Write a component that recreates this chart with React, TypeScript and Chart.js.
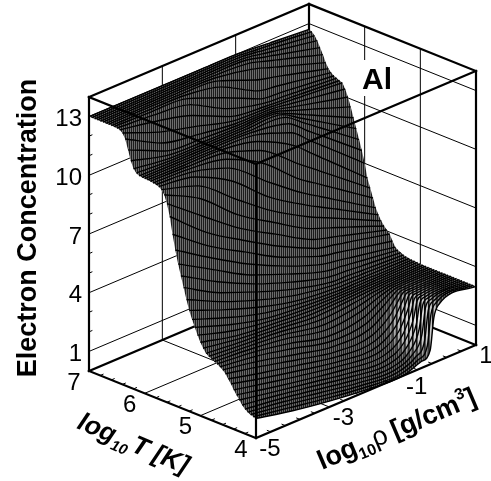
import React, { useEffect, useRef } from "react";
import { Chart, registerables } from "chart.js";

Chart.register(...registerables);

// ---------- data ----------
const temperatures = [
  7, 6.95, 6.9, 6.85, 6.8, 6.75, 6.7, 6.65, 6.6, 6.55, 6.5, 6.45, 6.4, 6.35, 6.3, 6.25, 6.2, 6.15, 6.1, 6.05,
  6, 5.95, 5.9, 5.85, 5.8, 5.75, 5.7, 5.65, 5.6, 5.55, 5.5, 5.45, 5.4, 5.35, 5.3, 5.25, 5.2, 5.15, 5.1, 5.05,
  5, 4.95, 4.9, 4.85, 4.8, 4.75, 4.7, 4.65, 4.6, 4.55, 4.5, 4.45, 4.4, 4.35, 4.3, 4.25, 4.2, 4.15, 4.1, 4.05, 4,
];
const densities = [-5, -4, -3, -2, -1, -0.5, -0.25, -0.15, 0, 1];

const zRhoM5 = [13,13,13,13,13,13,13,13,13,13,12.98,12.95,12.85,12.6,12.1,11.6,11.25,11.08,11,10.98,10.97,10.96,10.95,10.92,10.9,10.85,10.75,10.55,10.15,9.55,8.7,7.95,7.3,6.75,6.2,5.65,5.15,4.75,4.4,4.05,3.75,3.5,3.3,3.2,3.12,3.05,2.98,2.9,2.8,2.65,2.45,2.25,2,1.8,1.6,1.4,1.25,1.15,1.08,1.03,1];
const zRhoM4 = [13,13,13,13,13,13,13,13,12.98,12.95,12.85,12.6,12.1,11.6,11.25,11.08,11,10.98,10.97,10.96,10.95,10.92,10.9,10.85,10.75,10.55,10.15,9.55,8.7,7.95,7.3,6.75,6.2,5.65,5.15,4.75,4.4,4.05,3.75,3.5,3.3,3.2,3.12,3.05,2.98,2.9,2.8,2.65,2.45,2.25,2,1.8,1.6,1.4,1.25,1.12,1,0.9,0.8,0.7,0.6];
const zRhoM3 = [13,13,13,13,13,13,13,12.98,12.95,12.85,12.6,12.1,11.6,11.25,11.08,11,10.98,10.97,10.96,10.95,10.92,10.9,10.8,10.55,10.15,9.55,8.7,7.95,7.3,6.75,6.2,5.65,5.15,4.75,4.4,4.05,3.75,3.5,3.3,3.2,3.12,3.05,2.98,2.9,2.8,2.65,2.45,2.25,2,1.8,1.6,1.4,1.22,1.05,0.92,0.8,0.68,0.57,0.47,0.38,0.3];
const zRhoM2 = [13,13,13,13,13,12.98,12.95,12.85,12.6,12.1,11.6,11.25,11.08,11,10.98,10.97,10.96,10.95,10.92,10.9,10.82,10.55,10.15,9.55,8.7,7.95,7.3,6.75,6.2,5.65,5.15,4.75,4.4,4.05,3.75,3.5,3.3,3.2,3.12,3.05,2.98,2.9,2.8,2.65,2.45,2.25,2,1.8,1.6,1.4,1.22,1.05,0.9,0.75,0.6,0.48,0.36,0.26,0.18,0.12,0.08];
const zRhoM1 = [13,13,13,12.98,12.95,12.85,12.6,12.1,11.6,11.25,11.08,11,10.98,10.97,10.96,10.95,10.92,10.9,10.82,10.55,10.15,9.55,8.7,7.95,7.3,6.75,6.2,5.65,5.15,4.75,4.4,4.05,3.75,3.5,3.3,3.2,3.12,3.05,3.02,3,2.98,2.95,2.9,2.8,2.65,2.45,2.2,1.95,1.7,1.45,1.22,1,0.8,0.62,0.46,0.32,0.2,0.12,0.06,0.02,0];
const zRhoM05 = [12.93,12.91,12.88,12.81,12.71,12.56,12.29,11.85,11.44,11.15,11,10.93,10.9,10.83,10.73,10.61,10.47,10.32,10.14,9.81,9.36,8.74,7.99,7.31,6.71,6.22,5.75,5.29,4.87,4.54,4.2,3.88,3.63,3.42,3.26,3.17,3.1,3.05,3.02,3,3,2.98,2.96,2.93,2.88,2.8,2.68,2.52,2.32,2.1,1.88,1.65,1.42,1.2,1,0.82,0.66,0.54,0.45,0.38,0.33];
const zRhoM025 = [12.89,12.87,12.81,12.72,12.6,12.42,12.13,11.73,11.36,11.1,10.97,10.9,10.86,10.76,10.62,10.44,10.24,10.04,9.8,9.44,8.97,8.33,7.63,6.99,6.42,5.96,5.53,5.11,4.74,4.43,4.1,3.79,3.56,3.38,3.23,3.15,3.09,3.05,3.02,3.01,3,2.99,2.98,2.97,2.96,2.94,2.91,2.87,2.82,2.75,2.65,2.52,2.36,2.18,1.98,1.76,1.54,1.32,1.1,0.9,0.72];
const zRhoM015 = [12.87,12.85,12.79,12.69,12.55,12.36,12.07,11.68,11.33,11.08,10.95,10.88,10.84,10.73,10.57,10.38,10.15,9.92,9.66,9.3,8.81,8.17,7.49,6.87,6.3,5.86,5.44,5.03,4.68,4.39,4.06,3.75,3.54,3.36,3.22,3.15,3.09,3.05,3.02,3.01,3,3,3,2.99,2.99,2.99,2.98,2.98,2.97,2.97,2.95,2.93,2.9,2.87,2.83,2.78,2.72,2.65,2.56,2.45,2.3];
const zRho0 = [12.85,12.83,12.75,12.64,12.48,12.28,11.98,11.6,11.28,11.05,10.93,10.86,10.82,10.69,10.5,10.28,10.01,9.75,9.46,9.08,8.58,7.93,7.28,6.68,6.13,5.7,5.3,4.93,4.6,4.33,4,3.7,3.5,3.34,3.21,3.14,3.08,3.04,3.02,3.01,3,3,3,3,3,3,3,3,3,3,3,3,3,2.99,2.99,2.98,2.97,2.96,2.94,2.92,2.9];
const zRho1 = [12.7,12.65,12.5,12.3,12,11.7,11.35,11.1,10.95,10.85,10.78,10.72,10.66,10.4,10.05,9.6,9.1,8.6,8.1,7.6,7,6.3,5.85,5.4,4.95,4.65,4.4,4.2,4.05,3.9,3.6,3.35,3.25,3.18,3.12,3.08,3.05,3.04,3.03,3.02,3,3,3,3,3,3,3,3,3,3,3,3,3,3,3,3,3,3,3,3,3];

const surfaceColumns = [zRhoM5, zRhoM4, zRhoM3, zRhoM2, zRhoM1, zRhoM05, zRhoM025, zRhoM015, zRho0, zRho1];

const zTicks = [1, 4, 7, 10, 13];
const zMinorTicks = [2, 3, 5, 6, 8, 9, 11, 12];
const tTicks = [7, 6, 5, 4];
const tMinorTicks = [6.8, 6.6, 6.4, 6.2, 5.8, 5.6, 5.4, 5.2, 4.8, 4.6, 4.4, 4.2];
const rhoTicks = [-5, -3, -1, 1];
const rhoMinorTicks = [-4.6, -4.2, -3.8, -3.4, -2.6, -2.2, -1.8, -1.4, -0.6, -0.2, 0.2, 0.6];

// ---------- view of the box ----------
const T_MIN = 4, T_MAX = 7, RHO_MIN = -5, RHO_MAX = 1;
const ORIGIN = { x: 256, y: 438 };
const T_VEC = { x: -167, y: -67 };
const RHO_VEC = { x: 220, y: -93 };
const Z_UNIT = 19.57;

function project(t: number, rho: number, z: number) {
  const a = (t - T_MIN) / (T_MAX - T_MIN);
  const b = (rho - RHO_MIN) / (RHO_MAX - RHO_MIN);
  return { x: ORIGIN.x + a * T_VEC.x + b * RHO_VEC.x, y: ORIGIN.y + a * T_VEC.y + b * RHO_VEC.y - z * Z_UNIT };
}

function seg(a: number[], b: number[], width: number) {
  return {
    data: [project(a[0], a[1], a[2]), project(b[0], b[1], b[2])],
    borderColor: "#000",
    borderWidth: width,
    pointRadius: 0,
    fill: false,
    tension: 0,
    borderCapStyle: "square",
  };
}

function buildDatasets() {
  const front: any[] = [];
  const back: any[] = [];
  const THICK = 2.2, THIN = 1;
  // box edges in front of the surface
  front.push(seg([7, -5, 0], [4, -5, 0], THICK));
  front.push(seg([4, -5, 0], [4, 1, 0], THICK));
  front.push(seg([4, -5, 0], [4, -5, 14], THICK));
  front.push(seg([7, -5, 0], [7, -5, 14], THICK));
  front.push(seg([4, 1, 0], [4, 1, 14], THICK));
  front.push(seg([7, -5, 14], [4, -5, 14], THICK));
  front.push(seg([4, -5, 14], [4, 1, 14], THICK));
  front.push(seg([4, 1, 14], [7, 1, 14], THICK));
  front.push(seg([7, 1, 14], [7, -5, 14], THICK));
  // minor ticks
  tMinorTicks.forEach((t) => front.push(seg([t, -5, 0], [t, -4.92, 0], THIN)));
  rhoMinorTicks.forEach((r) => front.push(seg([4, r, 0], [4.06, r, 0], THIN)));
  zMinorTicks.forEach((z) => back.push(seg([7, -5, z], [7, -4.92, z], THIN)));
  // walls and floor, behind the surface
  back.push(seg([7, 1, 0], [7, 1, 14], THICK));
  back.push(seg([7, -5, 0], [7, 1, 0], THICK));
  back.push(seg([7, 1, 0], [4, 1, 0], THICK));
  zTicks.forEach((z) => {
    back.push(seg([7, -5, z], [7, 1, z], THIN));
    back.push(seg([7, 1, z], [4, 1, z], THIN));
  });
  rhoTicks.slice(1, 3).forEach((r) => {
    back.push(seg([7, r, 0], [7, r, 14], THIN));
    back.push(seg([7, r, 0], [4, r, 0], THIN));
  });
  tTicks.slice(1, 3).forEach((t) => {
    back.push(seg([t, 1, 0], [t, 1, 14], THIN));
    back.push(seg([t, -5, 0], [t, 1, 0], THIN));
  });
  // surface rows, nearest first: the first dataset is painted last
  const rows: any[] = [];
  for (let i = temperatures.length - 1; i >= 0; i--) {
    rows.push({
      surfaceRow: true,
      data: densities.map((r, c) => project(temperatures[i], r, surfaceColumns[c][i])),
      borderColor: "#000",
      borderWidth: 1.4,
      pointRadius: 0,
      fill: false,
      cubicInterpolationMode: "monotone",
    });
  }
  return [...front, ...rows, ...back];
}

function makeSurfacePattern(ctx: CanvasRenderingContext2D, w: number, h: number) {
  const c = document.createElement("canvas");
  c.width = w;
  c.height = h;
  const p = c.getContext("2d")!;
  p.fillStyle = "#1c1c1c";
  p.fillRect(0, 0, w, h);
  p.fillStyle = "#6c6c6c";
  for (let x = 0; x < w; x += 2) p.fillRect(x, 0, 1, h);
  // the stretched part of the mesh near the metallic edge looks open
  const z = document.createElement("canvas");
  z.width = w;
  z.height = h;
  const q = z.getContext("2d")!;
  q.fillStyle = "#e4e4e4";
  q.fillRect(0, 0, w, h);
  q.fillStyle = "#000";
  for (let x = 0; x < w; x += 4) q.fillRect(x, 0, 1.5, h);
  q.globalCompositeOperation = "destination-in";
  q.save();
  q.translate(417, 320);
  q.scale(0.8, 1);
  const g = q.createRadialGradient(0, 0, 6, 0, 0, 44);
  g.addColorStop(0, "rgba(0,0,0,1)");
  g.addColorStop(0.5, "rgba(0,0,0,0.75)");
  g.addColorStop(1, "rgba(0,0,0,0)");
  q.fillStyle = g;
  q.fillRect(-417 / 0.8, -320, w / 0.8, h);
  q.restore();
  p.drawImage(z, 0, 0);
  return ctx.createPattern(c, "no-repeat");
}

function traceForward(ctx: CanvasRenderingContext2D, pts: any[]) {
  pts.forEach((pt, i) => {
    if (i === 0) return;
    const prev = pts[i - 1];
    ctx.bezierCurveTo(prev.cp2x, prev.cp2y, pt.cp1x, pt.cp1y, pt.x, pt.y);
  });
}
function traceBackward(ctx: CanvasRenderingContext2D, pts: any[]) {
  for (let i = pts.length - 1; i > 0; i--) {
    const pt = pts[i], prev = pts[i - 1];
    ctx.bezierCurveTo(pt.cp1x, pt.cp1y, prev.cp2x, prev.cp2y, prev.x, prev.y);
  }
}

const surfaceFillPlugin = {
  id: "surfaceFill",
  beforeDatasetDraw(chart: any, args: any) {
    const ds = chart.data.datasets[args.index];
    const next = chart.data.datasets[args.index + 1];
    // all strips go in once, just before the farthest row is stroked
    if (!ds.surfaceRow || (next && next.surfaceRow)) return;
    const ctx = chart.ctx;
    const metas: any[] = [];
    chart.data.datasets.forEach((d: any, i: number) => {
      if (d.surfaceRow) {
        const m = chart.getDatasetMeta(i);
        m.dataset.updateControlPoints(chart.chartArea, "x");
        metas.push(m);
      }
    });
    ctx.save();
    ctx.fillStyle = makeSurfacePattern(ctx, chart.width, chart.height);
    for (let i = metas.length - 1; i > 0; i--) {
      const far = metas[i].data, near = metas[i - 1].data;
      ctx.beginPath();
      ctx.moveTo(far[0].x, far[0].y);
      traceForward(ctx, far);
      ctx.lineTo(near[near.length - 1].x, near[near.length - 1].y);
      traceBackward(ctx, near);
      ctx.closePath();
      ctx.fill();
    }
    ctx.restore();
  },
};

function drawRun(ctx: CanvasRenderingContext2D, x: number, y: number, deg: number, parts: { t: string; f: string; dy?: number; gap?: number }[]) {
  ctx.save();
  ctx.translate(x, y);
  ctx.rotate((deg * Math.PI) / 180);
  ctx.textAlign = "left";
  ctx.textBaseline = "alphabetic";
  ctx.fillStyle = "#000";
  let cx = 0;
  parts.forEach((p) => {
    ctx.font = p.f;
    ctx.fillText(p.t, cx, p.dy || 0);
    cx += ctx.measureText(p.t).width + (p.gap || 0);
  });
  ctx.restore();
}

const FONT = '"Liberation Sans", Arial, sans-serif';

const labelsPlugin = {
  id: "labels",
  afterDatasetsDraw(chart: any) {
    const ctx = chart.ctx;
    const sx = chart.scales.x, sy = chart.scales.y;
    const at = (t: number, r: number, z: number) => {
      const p = project(t, r, z);
      return { x: sx.getPixelForValue(p.x), y: sy.getPixelForValue(p.y) };
    };
    ctx.save();
    ctx.fillStyle = "#000";
    ctx.font = `24px ${FONT}`;
    ctx.textBaseline = "middle";
    ctx.textAlign = "right";
    zTicks.forEach((z) => {
      const p = at(7, -5, z);
      ctx.fillText(String(z), p.x - 7, p.y + 3);
    });
    ctx.textAlign = "center";
    tTicks.forEach((t) => {
      const p = at(t, -5, 0);
      ctx.fillText(String(t), p.x - 15, p.y + 12);
    });
    rhoTicks.forEach((r) => {
      const p = at(4, r, 0);
      ctx.fillText(String(r), p.x + (r === 1 ? 10 : 14), p.y + 11);
    });

    // material label with its white patch
    ctx.fillStyle = "#fff";
    ctx.fillRect(360, 60, 34, 36);
    ctx.fillStyle = "#000";
    ctx.font = `bold 30px ${FONT}`;
    ctx.textAlign = "left";
    ctx.textBaseline = "alphabetic";
    ctx.fillText("Al", 362, 89);

    // z title
    ctx.save();
    ctx.translate(36, 228);
    ctx.rotate(-Math.PI / 2);
    ctx.textAlign = "center";
    ctx.font = `bold 27px ${FONT}`;
    ctx.fillText("Electron Concentration", 0, 0);
    ctx.restore();
    ctx.restore();

    drawRun(ctx, 76, 428, 23, [
      { t: "log", f: `bold italic 26px ${FONT}` },
      { t: "10", f: `bold italic 15px ${FONT}`, dy: 6, gap: 3 },
      { t: "T [K]", f: `bold italic 26px ${FONT}` },
    ]);
    drawRun(ctx, 322, 470, -23, [
      { t: "log", f: `bold 27px ${FONT}` },
      { t: "10", f: `bold 16px ${FONT}`, dy: 6 },
      { t: "\u03C1", f: `27px ${FONT}`, gap: 6 },
      { t: "[g/cm", f: `bold 27px ${FONT}` },
      { t: "3", f: `bold 16px ${FONT}`, dy: -11 },
      { t: "]", f: `bold 27px ${FONT}` },
    ]);
  },
};

export default function App() {
  const ref = useRef<HTMLCanvasElement>(null);
  useEffect(() => {
    document.body.style.margin = "0";
    const chart = new Chart(ref.current!, {
      type: "line",
      data: { datasets: buildDatasets() as any },
      options: {
        animation: false,
        responsive: false,
        layout: { padding: 0 },
        plugins: { legend: { display: false }, tooltip: { enabled: false } },
        scales: {
          x: { type: "linear", min: 0, max: 491, display: false },
          y: { type: "linear", min: 0, max: 481, reverse: true, display: false },
        },
      },
      plugins: [surfaceFillPlugin, labelsPlugin],
    });
    return () => chart.destroy();
  }, []);
  return <canvas ref={ref} width={491} height={481} style={{ display: "block" }} />;
}
